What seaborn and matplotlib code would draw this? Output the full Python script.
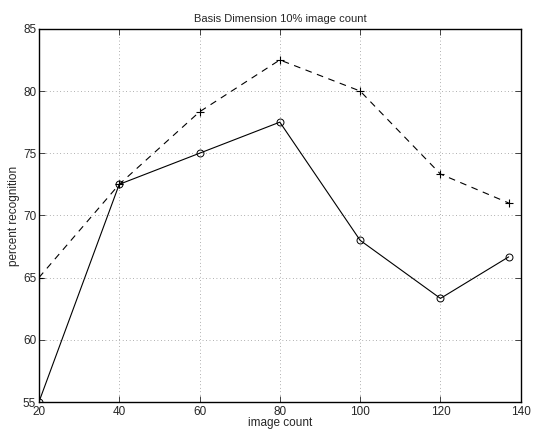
import matplotlib
matplotlib.use("Agg")
import matplotlib.pyplot as plt
import pandas as pd
import seaborn as sns

image_count = [20, 40, 60, 80, 100, 120, 137]
solid_recog = [55.0, 72.5, 75.0, 77.5, 68.0, 63.33, 66.67]
dashed_recog = [65.0, 72.5, 78.33, 82.5, 80.0, 73.33, 71.0]

x_ticks = [20, 40, 60, 80, 100, 120, 140]
y_ticks = [55, 60, 65, 70, 75, 80, 85]

sns.set_style("white")
plt.rcParams["font.family"] = ["Liberation Sans", "DejaVu Sans"]

df_solid = pd.DataFrame({"count": image_count, "recog": solid_recog})
df_dashed = pd.DataFrame({"count": image_count, "recog": dashed_recog})

fig = plt.figure(figsize=(5.33, 4.37), dpi=100)
ax = fig.add_axes([0.073, 0.080, 0.904, 0.854])

sns.lineplot(data=df_dashed, x="count", y="recog", ax=ax, color="black",
             linestyle=(0, (6, 5)), linewidth=0.8, marker="+", markersize=6,
             markeredgecolor="black", markeredgewidth=0.8)
sns.lineplot(data=df_solid, x="count", y="recog", ax=ax, color="black",
             linewidth=0.8, marker="o", markersize=5, markerfacecolor="none",
             markeredgecolor="black", markeredgewidth=0.7)

ax.set_xlim(20, 140)
ax.set_ylim(55, 85)
ax.set_xticks(x_ticks)
ax.set_yticks(y_ticks)
ax.grid(True, linestyle=(0, (1, 4)), color="black", linewidth=0.5, alpha=0.6)
ax.tick_params(direction="in", length=4, labelsize=8.5, width=0.6,
               top=True, right=True, bottom=True, left=True)
ax.tick_params(axis="x", pad=3)
ax.tick_params(axis="y", pad=2)
for s in ax.spines.values():
    s.set_color("black")
    s.set_linewidth(1.0)

ax.set_title("Basis Dimension 10% image count", fontsize=8, pad=5)
ax.set_xlabel("image count", fontsize=8.5, labelpad=-1)
ax.set_ylabel("percent recognition", fontsize=8.5, labelpad=2)

fig.savefig("out.png", dpi=100)
